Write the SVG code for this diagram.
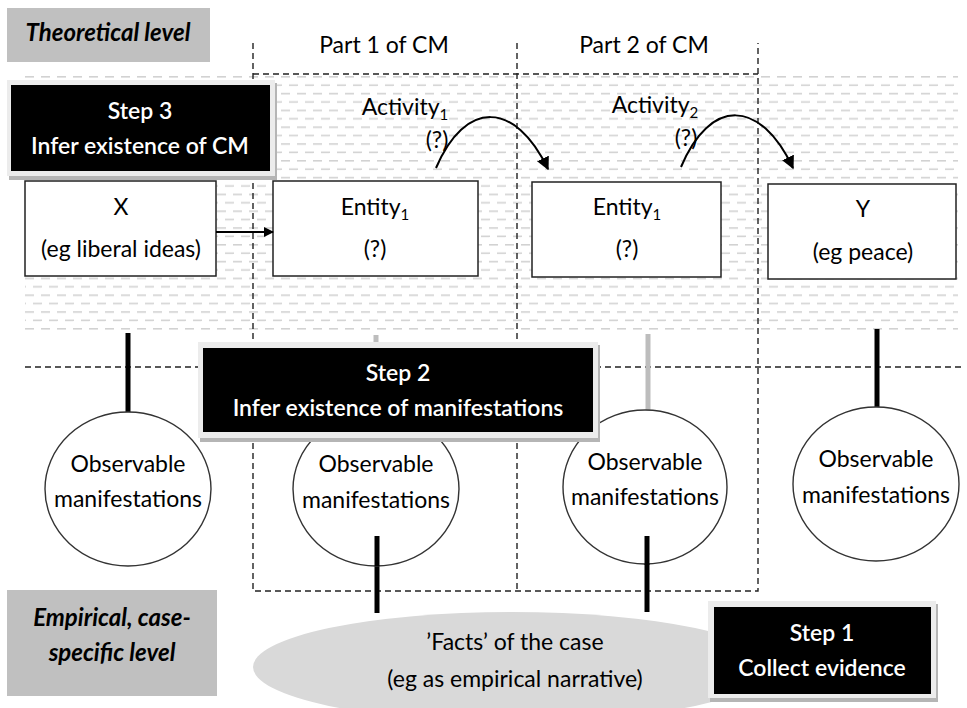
<svg xmlns="http://www.w3.org/2000/svg" width="967" height="708" viewBox="0 0 967 708">
<defs>
  <pattern id="hatch" x="25" y="76" width="16" height="16.8" patternUnits="userSpaceOnUse">
    <line x1="0" y1="0.8" x2="9" y2="0.8" stroke="#d2d2d2" stroke-width="1.6"/>
    <line x1="8" y1="9.2" x2="17" y2="9.2" stroke="#d2d2d2" stroke-width="1.6"/>
    <line x1="-8" y1="9.2" x2="1" y2="9.2" stroke="#d2d2d2" stroke-width="1.6"/>
  </pattern>
  <marker id="arr" viewBox="0 0 10 10" refX="9" refY="5" markerWidth="10" markerHeight="10" markerUnits="userSpaceOnUse" orient="auto">
    <path d="M0,0 L10,5 L0,10 z" fill="#000"/>
  </marker>
  <marker id="arr2" viewBox="0 0 10 10" refX="9" refY="5" markerWidth="13" markerHeight="13" markerUnits="userSpaceOnUse" orient="auto">
    <path d="M0,0 L10,5 L0,10 z" fill="#000"/>
  </marker>
</defs>
<style>
  text { font-family: Lato, "Liberation Sans", sans-serif; font-size: 23px; fill: #000; text-anchor: middle; }
  .lvl { font-weight: bold; font-style: italic; font-size: 24px; }
  .wt { fill: #fff; font-weight: 600; }
  .box { fill: #fff; stroke: #222; stroke-width: 1.5; }
  .circ { fill: #fff; stroke: #333; stroke-width: 1.4; }
  .dash { fill: none; stroke: #222; stroke-width: 1.4; stroke-dasharray: 6 4; }
  .thick { stroke: #000; stroke-width: 5; }
  .gthick { stroke: #bdbdbd; stroke-width: 5; }
  .frame { fill: #ececec; }
  .shadow { fill: #b5b5b5; }
  .sub { font-size: 15px; }
</style>
<rect x="0" y="0" width="967" height="708" fill="#fff"/>
<rect x="25" y="73" width="933" height="261" fill="url(#hatch)"/>

<g id="guides">
  <path class="dash" d="M253,43 V591 H758 V43"/>
  <path class="dash" d="M517,43 V591"/>
  <path class="dash" d="M253,74 H758"/>
  <path class="dash" d="M25,367 H965"/>
</g>

<g id="theoretical-label">
  <rect x="7" y="8" width="203" height="54" fill="#c0c0c0"/>
  <text class="lvl" x="108" y="41">Theoretical level</text>
</g>
<g id="empirical-label">
  <rect x="7" y="590" width="210" height="106" fill="#c0c0c0"/>
  <text class="lvl" x="112" y="626">Empirical, case-</text>
  <text class="lvl" x="112" y="661">specific level</text>
</g>

<g id="part1"><text x="384" y="53">Part 1 of CM</text></g>
<g id="part2"><text x="644" y="53">Part 2 of CM</text></g>

<g id="x">
  <rect class="box" x="25" y="181" width="191" height="95"/>
  <text x="121" y="215">X</text>
  <text x="121" y="257">(eg liberal ideas)</text>
</g>
<g id="entity1">
  <rect class="box" x="273" y="181" width="205" height="95"/>
  <text x="375" y="215">Entity<tspan class="sub" dy="5">1</tspan></text>
  <text x="375" y="257">(?)</text>
</g>
<g id="entity2">
  <rect class="box" x="532" y="182" width="189" height="95"/>
  <text x="627" y="215">Entity<tspan class="sub" dy="5">1</tspan></text>
  <text x="627" y="257">(?)</text>
</g>
<g id="y">
  <rect class="box" x="768" y="184" width="188" height="95"/>
  <text x="863" y="217">Y</text>
  <text x="863" y="260">(eg peace)</text>
</g>

<g id="activity1">
  <text x="405" y="115">Activity<tspan class="sub" dy="5">1</tspan></text>
  <text x="437" y="148">(?)</text>
</g>
<g id="activity2">
  <text x="655" y="113">Activity<tspan class="sub" dy="5">2</tspan></text>
  <text x="686" y="146">(?)</text>
</g>

<g id="facts">
  <ellipse cx="512" cy="667" rx="259" ry="55" fill="#d9d9d9"/>
  <text x="515" y="650">’Facts’ of the case</text>
  <text x="515" y="687">(eg as empirical narrative)</text>
</g>

<g id="connectors">
  <line x1="216" y1="232" x2="273" y2="232" stroke="#000" stroke-width="1.8" marker-end="url(#arr)"/>
  <path d="M436,168 C465,100 515,100 548,169" fill="none" stroke="#000" stroke-width="2" marker-end="url(#arr2)"/>
  <path d="M681,167 C710,98 760,98 793,168" fill="none" stroke="#000" stroke-width="2" marker-end="url(#arr2)"/>
  <line class="thick" x1="128" y1="333" x2="128" y2="412"/>
  <line class="gthick" x1="376" y1="335" x2="376" y2="412"/>
  <line class="gthick" x1="648" y1="334" x2="648" y2="410"/>
  <line class="thick" x1="877" y1="329" x2="877" y2="407"/>
  <line class="thick" x1="377" y1="536" x2="377" y2="613"/>
  <line class="thick" x1="647" y1="536" x2="647" y2="612"/>
</g>

<g id="obs1">
  <ellipse class="circ" cx="128" cy="489" rx="83" ry="77"/>
  <text x="128" y="472">Observable</text>
  <text x="128" y="507">manifestations</text>
</g>
<g id="obs2">
  <ellipse class="circ" cx="376" cy="489" rx="83" ry="77"/>
  <text x="376" y="472">Observable</text>
  <text x="376" y="508">manifestations</text>
</g>
<g id="obs3">
  <ellipse class="circ" cx="645" cy="487" rx="82" ry="77"/>
  <text x="645" y="470">Observable</text>
  <text x="645" y="505">manifestations</text>
</g>
<g id="obs4">
  <ellipse class="circ" cx="876" cy="484" rx="83" ry="77"/>
  <text x="876" y="467">Observable</text>
  <text x="876" y="503">manifestations</text>
</g>
<line class="thick" x1="377" y1="536" x2="377" y2="566"/>
<line class="thick" x1="647" y1="536" x2="647" y2="565"/>

<g id="step3">
  <rect class="shadow" x="9" y="83" width="268" height="97"/>
  <rect class="frame" x="7" y="80" width="268" height="96"/>
  <rect x="11" y="85" width="259" height="86" fill="#000"/>
  <text class="wt" x="140" y="119">Step 3</text>
  <text class="wt" x="140" y="154">Infer existence of CM</text>
</g>
<g id="step2">
  <rect class="shadow" x="200" y="345" width="400" height="97"/>
  <rect class="frame" x="198" y="342" width="400" height="96"/>
  <rect x="203" y="348" width="390" height="84" fill="#000"/>
  <text class="wt" x="398" y="381">Step 2</text>
  <text class="wt" x="398" y="416">Infer existence of manifestations</text>
</g>
<g id="step1">
  <rect class="shadow" x="710" y="604" width="228" height="98"/>
  <rect class="frame" x="708" y="601" width="228" height="97"/>
  <rect x="714" y="607" width="217" height="87" fill="#000"/>
  <text class="wt" x="822" y="641">Step 1</text>
  <text class="wt" x="822" y="676">Collect evidence</text>
</g>
</svg>
